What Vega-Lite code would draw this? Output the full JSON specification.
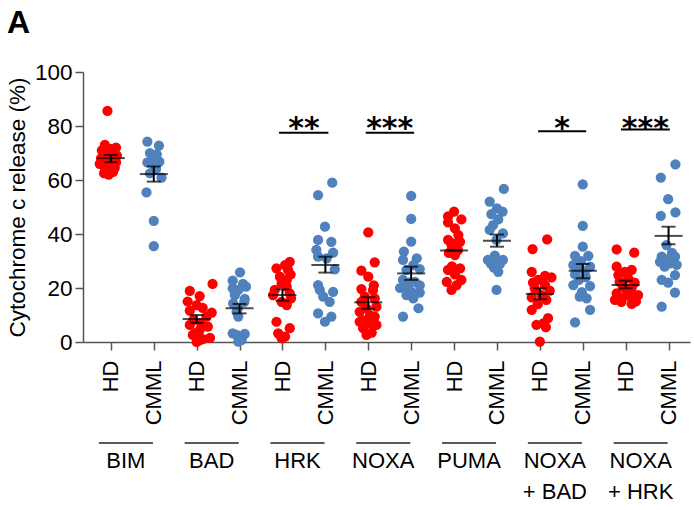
{
  "$schema": "https://vega.github.io/schema/vega-lite/v6.json",
  "width": 607,
  "height": 270,
  "autosize": {"type": "none"},
  "padding": {"left": 83, "top": 72, "right": 4, "bottom": 168},
  "background": "white",
  "title": {"text": "A", "anchor": "start", "frame": "group", "dx": -76, "offset": 21, "fontSize": 32, "fontWeight": "bold", "font": "Liberation Sans", "color": "black"},
  "config": {"view": {"stroke": null}, "font": "Liberation Sans"},
  "datasets": {
    "points": [
      {"grp":"HD","x":0.92,"v":85.6},{"grp":"HD","x":0.86,"v":73},{"grp":"HD","x":1.12,"v":72},{"grp":"HD","x":0.98,"v":71.5},{"grp":"HD","x":0.79,"v":71},{"grp":"HD","x":1.05,"v":70},{"grp":"HD","x":0.91,"v":69.5},{"grp":"HD","x":1.14,"v":69},{"grp":"HD","x":0.77,"v":68},{"grp":"HD","x":1.0,"v":67.5},{"grp":"HD","x":0.86,"v":67},{"grp":"HD","x":1.12,"v":66.5},{"grp":"HD","x":0.74,"v":66},{"grp":"HD","x":0.98,"v":65.5},{"grp":"HD","x":0.84,"v":65},{"grp":"HD","x":1.09,"v":64.5},{"grp":"HD","x":0.93,"v":64},{"grp":"HD","x":1.05,"v":63},{"grp":"HD","x":0.84,"v":62.5},{"grp":"HD","x":0.95,"v":62},
      {"grp":"CMML","x":1.85,"v":74.2},{"grp":"CMML","x":2.12,"v":72.7},{"grp":"CMML","x":1.91,"v":70},{"grp":"CMML","x":2.07,"v":69.5},{"grp":"CMML","x":1.98,"v":67},{"grp":"CMML","x":1.85,"v":66.5},{"grp":"CMML","x":2.13,"v":66.8},{"grp":"CMML","x":2.05,"v":64},{"grp":"CMML","x":2.01,"v":63.7},{"grp":"CMML","x":1.91,"v":62.5},{"grp":"CMML","x":2.18,"v":60.9},{"grp":"CMML","x":1.83,"v":55.4},{"grp":"CMML","x":2.0,"v":44.9},{"grp":"CMML","x":2.0,"v":35.5},
      {"grp":"HD","x":3.37,"v":21.5},{"grp":"HD","x":2.84,"v":18.9},{"grp":"HD","x":3.07,"v":17},{"grp":"HD","x":2.79,"v":15},{"grp":"HD","x":3.0,"v":13.7},{"grp":"HD","x":3.14,"v":12.6},{"grp":"HD","x":2.84,"v":11.6},{"grp":"HD","x":3.35,"v":10.9},{"grp":"HD","x":3.23,"v":9.4},{"grp":"HD","x":2.92,"v":8.1},{"grp":"HD","x":3.1,"v":7},{"grp":"HD","x":2.84,"v":6.3},{"grp":"HD","x":3.26,"v":5.7},{"grp":"HD","x":3.07,"v":4.4},{"grp":"HD","x":2.96,"v":3.3},{"grp":"HD","x":2.91,"v":2.6},{"grp":"HD","x":3.31,"v":1.5},{"grp":"HD","x":3.14,"v":1.1},{"grp":"HD","x":3.07,"v":0.7},{"grp":"HD","x":3.0,"v":0},
      {"grp":"CMML","x":4.01,"v":25.8},{"grp":"CMML","x":3.84,"v":22.7},{"grp":"CMML","x":4.08,"v":21.5},{"grp":"CMML","x":4.15,"v":20.5},{"grp":"CMML","x":3.84,"v":19.9},{"grp":"CMML","x":3.97,"v":19.3},{"grp":"CMML","x":3.89,"v":17.4},{"grp":"CMML","x":4.12,"v":16},{"grp":"CMML","x":4.11,"v":14.9},{"grp":"CMML","x":3.85,"v":14.3},{"grp":"CMML","x":3.96,"v":12.5},{"grp":"CMML","x":3.93,"v":11.2},{"grp":"CMML","x":3.97,"v":9.4},{"grp":"CMML","x":3.84,"v":3.2},{"grp":"CMML","x":4.12,"v":3.0},{"grp":"CMML","x":3.93,"v":2.6},{"grp":"CMML","x":4.01,"v":1.4},{"grp":"CMML","x":4.05,"v":0.8},{"grp":"CMML","x":3.97,"v":0.1},
      {"grp":"HD","x":5.17,"v":29.7},{"grp":"HD","x":5.06,"v":28.5},{"grp":"HD","x":4.86,"v":27.3},{"grp":"HD","x":5.13,"v":26.7},{"grp":"HD","x":5.19,"v":25},{"grp":"HD","x":4.94,"v":24.2},{"grp":"HD","x":5.1,"v":23},{"grp":"HD","x":4.98,"v":21.7},{"grp":"HD","x":5.1,"v":20.5},{"grp":"HD","x":4.82,"v":19.3},{"grp":"HD","x":5.17,"v":18},{"grp":"HD","x":4.78,"v":17.4},{"grp":"HD","x":5.2,"v":16.2},{"grp":"HD","x":4.98,"v":14.9},{"grp":"HD","x":5.1,"v":13.7},{"grp":"HD","x":4.86,"v":7.5},{"grp":"HD","x":5.17,"v":5.1},{"grp":"HD","x":4.9,"v":3.2},{"grp":"HD","x":5.06,"v":2},{"grp":"HD","x":4.98,"v":1.4},
      {"grp":"CMML","x":6.16,"v":59},{"grp":"CMML","x":5.83,"v":54.4},{"grp":"CMML","x":5.99,"v":42.7},{"grp":"CMML","x":5.83,"v":37.8},{"grp":"CMML","x":6.14,"v":37.1},{"grp":"CMML","x":5.79,"v":34.1},{"grp":"CMML","x":6.18,"v":33.1},{"grp":"CMML","x":5.83,"v":31.6},{"grp":"CMML","x":6.03,"v":31},{"grp":"CMML","x":6.22,"v":26.9},{"grp":"CMML","x":5.83,"v":21.1},{"grp":"CMML","x":5.87,"v":19.3},{"grp":"CMML","x":6.18,"v":18.6},{"grp":"CMML","x":5.95,"v":16.8},{"grp":"CMML","x":6.1,"v":14.9},{"grp":"CMML","x":5.83,"v":10.6},{"grp":"CMML","x":6.14,"v":9.4},{"grp":"CMML","x":5.99,"v":7.5},
      {"grp":"HD","x":7.0,"v":40.6},{"grp":"HD","x":7.15,"v":29.5},{"grp":"HD","x":6.84,"v":26.4},{"grp":"HD","x":7.0,"v":24.2},{"grp":"HD","x":7.13,"v":21},{"grp":"HD","x":6.84,"v":19.6},{"grp":"HD","x":7.11,"v":19.2},{"grp":"HD","x":6.92,"v":16.8},{"grp":"HD","x":7.15,"v":16.2},{"grp":"HD","x":6.84,"v":14.9},{"grp":"HD","x":7.19,"v":13.1},{"grp":"HD","x":6.96,"v":12.5},{"grp":"HD","x":6.8,"v":11.2},{"grp":"HD","x":7.04,"v":10},{"grp":"HD","x":7.15,"v":9.4},{"grp":"HD","x":6.9,"v":8},{"grp":"HD","x":6.8,"v":7.5},{"grp":"HD","x":7.04,"v":6.9},{"grp":"HD","x":7.19,"v":6.3},{"grp":"HD","x":6.88,"v":5.1},{"grp":"HD","x":7.08,"v":3.5},{"grp":"HD","x":6.96,"v":2.6},
      {"grp":"CMML","x":8.0,"v":54.1},{"grp":"CMML","x":8.0,"v":45.6},{"grp":"CMML","x":8.0,"v":37.2},{"grp":"CMML","x":7.83,"v":33.5},{"grp":"CMML","x":8.13,"v":31},{"grp":"CMML","x":7.81,"v":30.4},{"grp":"CMML","x":8.05,"v":28.5},{"grp":"CMML","x":8.2,"v":27},{"grp":"CMML","x":7.89,"v":26.7},{"grp":"CMML","x":7.81,"v":23},{"grp":"CMML","x":8.09,"v":22.3},{"grp":"CMML","x":7.95,"v":22},{"grp":"CMML","x":8.2,"v":21},{"grp":"CMML","x":7.74,"v":20},{"grp":"CMML","x":7.92,"v":19.9},{"grp":"CMML","x":8.2,"v":18.3},{"grp":"CMML","x":8.01,"v":18.6},{"grp":"CMML","x":7.89,"v":17.4},{"grp":"CMML","x":8.05,"v":16.2},{"grp":"CMML","x":8.17,"v":12.5},{"grp":"CMML","x":7.81,"v":9.4},
      {"grp":"HD","x":9.0,"v":48.3},{"grp":"HD","x":8.86,"v":46.5},{"grp":"HD","x":9.17,"v":45.4},{"grp":"HD","x":8.86,"v":44.3},{"grp":"HD","x":9.02,"v":42.1},{"grp":"HD","x":9.1,"v":39.6},{"grp":"HD","x":8.86,"v":37.8},{"grp":"HD","x":9.14,"v":37.1},{"grp":"HD","x":8.97,"v":36.5},{"grp":"HD","x":8.94,"v":35.9},{"grp":"HD","x":9.09,"v":34},{"grp":"HD","x":8.88,"v":33},{"grp":"HD","x":9.02,"v":32.2},{"grp":"HD","x":8.95,"v":28},{"grp":"HD","x":9.14,"v":27.3},{"grp":"HD","x":8.86,"v":26.7},{"grp":"HD","x":9.02,"v":25},{"grp":"HD","x":9.17,"v":23},{"grp":"HD","x":8.83,"v":22.3},{"grp":"HD","x":9.06,"v":21.1},{"grp":"HD","x":8.94,"v":19.3},
      {"grp":"CMML","x":10.16,"v":56.7},{"grp":"CMML","x":9.83,"v":52},{"grp":"CMML","x":10.0,"v":49.5},{"grp":"CMML","x":10.13,"v":48.3},{"grp":"CMML","x":9.87,"v":47.4},{"grp":"CMML","x":10.03,"v":45.4},{"grp":"CMML","x":9.91,"v":43.3},{"grp":"CMML","x":9.83,"v":41.5},{"grp":"CMML","x":10.14,"v":40.2},{"grp":"CMML","x":9.99,"v":37.8},{"grp":"CMML","x":9.95,"v":32},{"grp":"CMML","x":9.79,"v":30.4},{"grp":"CMML","x":10.14,"v":30.4},{"grp":"CMML","x":9.97,"v":30},{"grp":"CMML","x":9.86,"v":29},{"grp":"CMML","x":10.07,"v":28.9},{"grp":"CMML","x":9.93,"v":27.5},{"grp":"CMML","x":10.03,"v":26},{"grp":"CMML","x":9.99,"v":19.3},
      {"grp":"HD","x":11.17,"v":38},{"grp":"HD","x":10.83,"v":34.4},{"grp":"HD","x":10.81,"v":26},{"grp":"HD","x":11.12,"v":24.5},{"grp":"HD","x":11.27,"v":23.9},{"grp":"HD","x":10.96,"v":23},{"grp":"HD","x":10.84,"v":22},{"grp":"HD","x":11.12,"v":21.1},{"grp":"HD","x":10.88,"v":19.9},{"grp":"HD","x":11.23,"v":19},{"grp":"HD","x":11.04,"v":17.4},{"grp":"HD","x":10.81,"v":16.5},{"grp":"HD","x":11.15,"v":15.6},{"grp":"HD","x":10.95,"v":14},{"grp":"HD","x":10.81,"v":11.9},{"grp":"HD","x":11.19,"v":8.8},{"grp":"HD","x":11.08,"v":6.9},{"grp":"HD","x":10.92,"v":6.3},{"grp":"HD","x":11.14,"v":5.5},{"grp":"HD","x":11.0,"v":0.1},
      {"grp":"CMML","x":12.0,"v":58.4},{"grp":"CMML","x":12.0,"v":43},{"grp":"CMML","x":12.0,"v":35.3},{"grp":"CMML","x":11.82,"v":31.9},{"grp":"CMML","x":12.13,"v":31.9},{"grp":"CMML","x":11.96,"v":30},{"grp":"CMML","x":11.78,"v":28.5},{"grp":"CMML","x":12.17,"v":27.9},{"grp":"CMML","x":11.93,"v":27.5},{"grp":"CMML","x":12.05,"v":26},{"grp":"CMML","x":11.82,"v":25},{"grp":"CMML","x":12.07,"v":24},{"grp":"CMML","x":11.91,"v":23},{"grp":"CMML","x":11.78,"v":21.1},{"grp":"CMML","x":12.17,"v":20.7},{"grp":"CMML","x":11.98,"v":18.5},{"grp":"CMML","x":11.93,"v":16.8},{"grp":"CMML","x":12.09,"v":16.2},{"grp":"CMML","x":12.17,"v":11.9},{"grp":"CMML","x":11.82,"v":7.3},
      {"grp":"HD","x":12.79,"v":34.3},{"grp":"HD","x":13.2,"v":33.1},{"grp":"HD","x":12.79,"v":27.9},{"grp":"HD","x":13.14,"v":26.7},{"grp":"HD","x":12.98,"v":26},{"grp":"HD","x":12.83,"v":24.8},{"grp":"HD","x":13.06,"v":23.6},{"grp":"HD","x":13.21,"v":22},{"grp":"HD","x":12.86,"v":22.3},{"grp":"HD","x":12.94,"v":20.5},{"grp":"HD","x":13.14,"v":20},{"grp":"HD","x":13.03,"v":18.5},{"grp":"HD","x":12.79,"v":18},{"grp":"HD","x":13.29,"v":17.4},{"grp":"HD","x":13.1,"v":17},{"grp":"HD","x":12.91,"v":16},{"grp":"HD","x":12.75,"v":15.6},{"grp":"HD","x":13.24,"v":15},{"grp":"HD","x":12.9,"v":14.9},{"grp":"HD","x":13.14,"v":14.1},
      {"grp":"CMML","x":14.16,"v":65.8},{"grp":"CMML","x":13.82,"v":60.9},{"grp":"CMML","x":13.99,"v":52.9},{"grp":"CMML","x":14.16,"v":48},{"grp":"CMML","x":13.82,"v":46.7},{"grp":"CMML","x":13.95,"v":35.9},{"grp":"CMML","x":14.08,"v":33},{"grp":"CMML","x":13.84,"v":31.6},{"grp":"CMML","x":14.15,"v":31.6},{"grp":"CMML","x":13.98,"v":30.5},{"grp":"CMML","x":13.8,"v":29.7},{"grp":"CMML","x":14.03,"v":29.1},{"grp":"CMML","x":14.19,"v":28.6},{"grp":"CMML","x":13.91,"v":27.9},{"grp":"CMML","x":14.15,"v":24.8},{"grp":"CMML","x":13.84,"v":23},{"grp":"CMML","x":13.99,"v":22},{"grp":"CMML","x":14.15,"v":18.3},{"grp":"CMML","x":13.84,"v":13.1}
    ],
    "summary": [
      {"x":1,"m":68.1,"lo":66.6,"hi":69.3},
      {"x":2,"m":62.2,"lo":59.4,"hi":65.0},
      {"x":3,"m":8.5,"lo":7.1,"hi":10.0},
      {"x":4,"m":12.5,"lo":10.6,"hi":14.1},
      {"x":5,"m":17.4,"lo":15.3,"hi":19.5},
      {"x":6,"m":28.5,"lo":25.7,"hi":31.6},
      {"x":7,"m":14.7,"lo":12.3,"hi":16.6},
      {"x":8,"m":25.4,"lo":23.0,"hi":27.9},
      {"x":9,"m":33.9,"lo":33.9,"hi":33.9},
      {"x":10,"m":37.5,"lo":35.3,"hi":39.8},
      {"x":11,"m":17.8,"lo":15.8,"hi":19.9},
      {"x":12,"m":26.4,"lo":23.6,"hi":28.9},
      {"x":13,"m":21.1,"lo":19.9,"hi":22.7},
      {"x":14,"m":39.3,"lo":36.2,"hi":42.7}
    ],
    "sig": [
      {"x1":4.92,"x2":6.07,"y":77.5,"xc":5.5,"ty":75.5,"stars":"**"},
      {"x1":6.94,"x2":8.07,"y":77.5,"xc":7.5,"ty":75.5,"stars":"***"},
      {"x1":10.96,"x2":12.08,"y":78.1,"xc":11.52,"ty":75.5,"stars":"*"},
      {"x1":12.89,"x2":14.03,"y":78.7,"xc":13.46,"ty":75.5,"stars":"***"}
    ],
    "groups": [
      {"xc":1.35,"x1":0.72,"x2":1.98,"ly":-37.4,"ty":-40.5,"label":"BIM"},
      {"xc":3.35,"x1":2.72,"x2":3.98,"ly":-37.4,"ty":-40.5,"label":"BAD"},
      {"xc":5.35,"x1":4.72,"x2":5.98,"ly":-37.4,"ty":-40.5,"label":"HRK"},
      {"xc":7.35,"x1":6.72,"x2":7.98,"ly":-37.4,"ty":-40.5,"label":"NOXA"},
      {"xc":9.35,"x1":8.72,"x2":9.98,"ly":-37.4,"ty":-40.5,"label":"PUMA"},
      {"xc":11.35,"x1":10.72,"x2":11.98,"ly":-37.4,"ty":-40.5,"label":"NOXA\n+ BAD"},
      {"xc":13.35,"x1":12.72,"x2":13.98,"ly":-37.4,"ty":-40.5,"label":"NOXA\n+ HRK"}
    ]
  },
  "layer": [
    {
      "data": {"name": "points"},
      "mark": {"type": "circle", "size": 105, "opacity": 1},
      "encoding": {
        "x": {"field": "x", "type": "quantitative",
              "scale": {"domain": [0.35, 14.5], "nice": false, "zero": false},
              "axis": {"title": null, "values": [1,2,3,4,5,6,7,8,9,10,11,12,13,14],
                       "labelExpr": "datum.value % 2 == 1 ? 'HD' : 'CMML'",
                       "labelAngle": -90, "labelFontSize": 22, "labelColor": "black", "labelFont": "Liberation Sans",
                       "labelPadding": 10, "labelFlush": false, "labelOverlap": false,
                       "grid": false, "domainColor": "#555555", "domainWidth": 1.5,
                       "tickColor": "#555555", "tickWidth": 1.5, "tickSize": 8}},
        "y": {"field": "v", "type": "quantitative",
              "scale": {"domain": [0, 100], "nice": false, "zero": true},
              "axis": {"title": "Cytochrome c release (%)", "titleFontSize": 22.5, "titleFontWeight": "normal", "titleColor": "black", "titleFont": "Liberation Sans", "titlePadding": 5,
                       "values": [0,20,40,60,80,100], "labelFontSize": 22.5, "labelColor": "black", "labelFont": "Liberation Sans", "labelPadding": 3,
                       "grid": false, "domainColor": "#555555", "domainWidth": 1.5,
                       "tickColor": "#555555", "tickWidth": 1.5, "tickSize": 8, "labelFlush": false}},
        "color": {"field": "grp", "type": "nominal", "scale": {"domain": ["HD","CMML"], "range": ["#FF0000", "#4F81BD"]}, "legend": null}
      }
    },
    {
      "data": {"name": "summary"},
      "mark": {"type": "rule", "color": "black", "strokeWidth": 2},
      "encoding": {
        "x": {"field": "x", "type": "quantitative"},
        "y": {"field": "lo", "type": "quantitative"},
        "y2": {"field": "hi"}
      }
    },
    {
      "data": {"name": "summary"},
      "mark": {"type": "tick", "orient": "horizontal", "color": "black", "size": 14, "thickness": 2},
      "encoding": {
        "x": {"field": "x", "type": "quantitative"},
        "y": {"field": "lo", "type": "quantitative"}
      }
    },
    {
      "data": {"name": "summary"},
      "mark": {"type": "tick", "orient": "horizontal", "color": "black", "size": 14, "thickness": 2},
      "encoding": {
        "x": {"field": "x", "type": "quantitative"},
        "y": {"field": "hi", "type": "quantitative"}
      }
    },
    {
      "data": {"name": "summary"},
      "mark": {"type": "tick", "orient": "horizontal", "color": "black", "size": 28, "thickness": 2},
      "encoding": {
        "x": {"field": "x", "type": "quantitative"},
        "y": {"field": "m", "type": "quantitative"}
      }
    },
    {
      "data": {"name": "sig"},
      "mark": {"type": "rule", "color": "black", "strokeWidth": 2},
      "encoding": {
        "x": {"field": "x1", "type": "quantitative"},
        "x2": {"field": "x2"},
        "y": {"field": "y", "type": "quantitative"}
      }
    },
    {
      "data": {"name": "sig"},
      "mark": {"type": "text", "font": "DejaVu Sans", "fontWeight": "bold", "fontSize": 30, "align": "center", "baseline": "alphabetic", "color": "black"},
      "encoding": {
        "x": {"field": "xc", "type": "quantitative"},
        "y": {"field": "ty", "type": "quantitative"},
        "text": {"field": "stars"}
      }
    },
    {
      "data": {"name": "groups"},
      "mark": {"type": "rule", "color": "#222222", "strokeWidth": 1.5},
      "encoding": {
        "x": {"field": "x1", "type": "quantitative"},
        "x2": {"field": "x2"},
        "y": {"field": "ly", "type": "quantitative"}
      }
    },
    {
      "data": {"name": "groups"},
      "mark": {"type": "text", "font": "Liberation Sans", "fontSize": 22, "align": "center", "baseline": "top", "lineBreak": "\n", "lineHeight": 31, "color": "black"},
      "encoding": {
        "x": {"field": "xc", "type": "quantitative"},
        "y": {"field": "ty", "type": "quantitative"},
        "text": {"field": "label"}
      }
    }
  ]
}
